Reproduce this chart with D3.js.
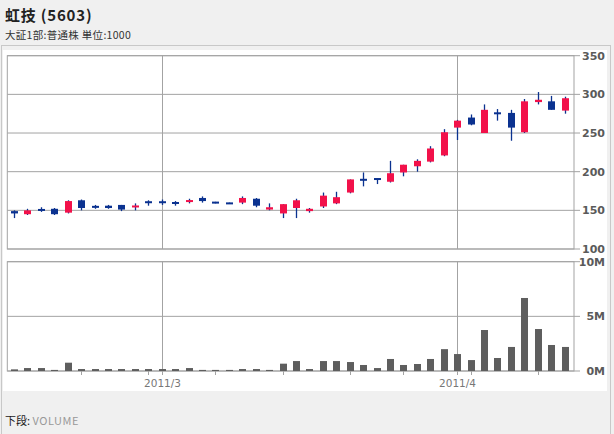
<!DOCTYPE html>
<html><head><meta charset="utf-8">
<script src="https://cdn.jsdelivr.net/npm/d3@7"></script>
<style>
html,body{margin:0;padding:0;background:#f0f0f0;}
svg{display:block;}
</style></head>
<body>
<script>
// ---- data ----
const dates = ["2011-02-14","2011-02-15","2011-02-16","2011-02-17","2011-02-18",
"2011-02-21","2011-02-22","2011-02-23","2011-02-24","2011-02-25","2011-02-28",
"2011-03-01","2011-03-02","2011-03-03","2011-03-04","2011-03-07","2011-03-08","2011-03-09","2011-03-10","2011-03-11",
"2011-03-14","2011-03-15","2011-03-16","2011-03-17","2011-03-18","2011-03-22","2011-03-23","2011-03-24","2011-03-25",
"2011-03-28","2011-03-29","2011-03-30","2011-03-31",
"2011-04-01","2011-04-04","2011-04-05","2011-04-06","2011-04-07","2011-04-08","2011-04-11","2011-04-12","2011-04-13"];
const openP  = [149,145,151,152,147,163,155,156,157,154,161,161,160,161,166,161,160,160,165,151,146,153,149,155,159,173,190,191,187,199,207,213,221,257,270,250,276,276,251,290,291,279];
const highP  = [150,152,154,153,163,164,157,157,157,159,163,164,162,165,168,161,160,168,166,159,158,165,153,173,174,190,199,191,214,209,216,233,255,267,274,287,281,280,294,303,298,297];
const lowP   = [140,144,148,144,146,150,152,152,149,150,156,157,156,159,160,159,159,158,154,150,140,140,147,153,158,172,181,184,186,194,200,212,220,241,260,250,266,240,250,287,280,275];
const closeP = [146,150,150,145,162,153,154,153,151,156,160,160,159,163,162,159,158,166,156,154,158,163,152,169,167,190,189,190,198,209,214,230,251,266,261,280,275,257,291,293,280,295];
const volume = [150000,270000,270000,100000,760000,180000,180000,180000,180000,180000,180000,180000,180000,270000,100000,100000,100000,180000,180000,100000,670000,910000,180000,910000,910000,820000,550000,270000,1100000,550000,640000,1100000,2000000,1550000,1000000,3750000,1190000,2200000,6680000,3840000,2380000,2200000];
const priceTicks = [100,150,200,250,300,350];
const volTicks = [0,5000000,10000000];
const monthLabels = [{date:"2011-03-01",label:"2011/3"},{date:"2011-04-01",label:"2011/4"}];
const weekTicks = ["2011-02-21","2011-02-28","2011-03-07","2011-03-14","2011-03-22","2011-03-28","2011-04-04","2011-04-11"];
const title = "虹技 (5603)";
const subtitle = "大証1部:普通株 単位:1000";

// ---- layout ----
const W = 614, H = 434;
const plotL = 7.3, plotR = 574;
const pTop = 55.7, pBot = 249;
const vTop = 261.7, vBot = 371;
const RED = "#f2114a", BLUE = "#0b3290", GRID = "#a3a3a3", VOL = "#5e5e5e";

const svg = d3.select("body").append("svg").attr("width", W).attr("height", H);

// outer frame
svg.append("rect").attr("x",1.5).attr("y",45.5).attr("width",609).attr("height",H).attr("fill","#f0f0f0").attr("stroke","#c8c8c8");
svg.append("rect").attr("x",3).attr("y",50).attr("width",604).attr("height",341).attr("fill","#fff");

svg.append("text").attr("x",5).attr("y",21).text(title)
  .attr("font-family","'Noto Sans CJK JP', sans-serif").attr("font-weight","bold").attr("font-size",15)
  .attr("letter-spacing",0.8).attr("fill","#222");
svg.append("text").attr("x",5).attr("y",38.5).text(subtitle)
  .attr("font-family","'Noto Sans CJK JP', sans-serif").attr("font-size",10.5).attr("letter-spacing",0.3).attr("fill","#333");

const x = d3.scaleBand().domain(dates).range([plotL, 571.3]).padding(0);
const cx = d => x(d) + x.bandwidth()/2;
const y = d3.scaleLinear().domain([100,350]).range([pBot, pTop]);
const yv = d3.scaleLinear().domain([0,10000000]).range([vBot, vTop]);

function panel(y0, y1){
  svg.append("rect").attr("x",plotL).attr("y",y0).attr("width",plotR-plotL).attr("height",y1-y0)
    .attr("fill","#fff").attr("stroke",GRID).attr("stroke-width",1);
}
panel(pTop, pBot);
panel(vTop, vBot);

// horizontal grid + right axis ticks
svg.append("g").selectAll("line").data(priceTicks).join("line")
  .attr("x1",plotL).attr("x2",plotR+6).attr("y1",d=>y(d)).attr("y2",d=>y(d)).attr("stroke",GRID);
svg.append("g").selectAll("line").data(volTicks).join("line")
  .attr("x1",plotL).attr("x2",plotR+6).attr("y1",d=>yv(d)).attr("y2",d=>yv(d)).attr("stroke",GRID);

// month vertical lines + labels
monthLabels.forEach(m=>{
  const xx = Math.round(cx(m.date))+0.5;
  svg.append("line").attr("x1",xx).attr("x2",xx).attr("y1",pTop).attr("y2",pBot).attr("stroke",GRID);
  svg.append("line").attr("x1",xx).attr("x2",xx).attr("y1",vTop).attr("y2",vBot+4).attr("stroke",GRID);
  svg.append("text").attr("x",xx).attr("y",387).attr("text-anchor","middle").text(m.label)
    .attr("font-family","'DejaVu Sans', sans-serif").attr("font-size",10.5).attr("fill","#777");
});
// week ticks
svg.append("g").selectAll("line").data(weekTicks).join("line")
  .attr("x1",d=>Math.round(cx(d))+0.5).attr("x2",d=>Math.round(cx(d))+0.5)
  .attr("y1",vBot).attr("y2",vBot+4).attr("stroke",GRID);

// axis labels
const axisFont = {"font-family":"'DejaVu Sans', sans-serif","font-weight":"bold","font-size":11,"fill":"#5a5a5a"};
function applyFont(sel){ Object.entries(axisFont).forEach(([k,v])=>sel.attr(k,v)); return sel; }
applyFont(svg.append("g").selectAll("text").data(priceTicks).join("text")
  .attr("x",605).attr("y",d=>y(d)+4).attr("text-anchor","end").text(d=>d));
applyFont(svg.append("g").selectAll("text").data(volTicks).join("text")
  .attr("x",605).attr("y",d=>yv(d)+4).attr("text-anchor","end").text(d=>(d/1000000)+"M"));

// candles
const bw = 7;
const idx = d3.range(dates.length);
const cg = svg.append("g");
cg.selectAll("line").data(idx).join("line")
  .attr("x1",i=>Math.round(cx(dates[i]))+0.5).attr("x2",i=>Math.round(cx(dates[i]))+0.5)
  .attr("y1",i=>y(highP[i])).attr("y2",i=>y(lowP[i])).attr("stroke",BLUE).attr("stroke-width",1.3);
cg.selectAll("rect").data(idx).join("rect")
  .attr("x",i=>Math.round(cx(dates[i]))+0.5-bw/2)
  .attr("width",bw)
  .attr("y",i=>{const t=y(Math.max(openP[i],closeP[i])), b=y(Math.min(openP[i],closeP[i])); return (b-t)<2 ? (t+b)/2-1 : t;})
  .attr("height",i=>Math.max(2, y(Math.min(openP[i],closeP[i]))-y(Math.max(openP[i],closeP[i]))))
  .attr("fill",i=>closeP[i]>openP[i]?RED:BLUE);

// volume
svg.append("g").selectAll("rect").data(idx).join("rect")
  .attr("x",i=>Math.round(cx(dates[i]))+0.5-bw/2).attr("width",bw)
  .attr("y",i=>yv(volume[i])).attr("height",i=>vBot-yv(volume[i])).attr("fill",VOL);

// footer
const ft = svg.append("text").attr("x",5).attr("y",425)
  .attr("font-family","'Noto Sans CJK JP', sans-serif").attr("font-size",11);
ft.append("tspan").attr("fill","#222").text("下段: ");
ft.append("tspan").attr("fill","#999").attr("letter-spacing",0.5).text("VOLUME");
</script>
</body></html>
